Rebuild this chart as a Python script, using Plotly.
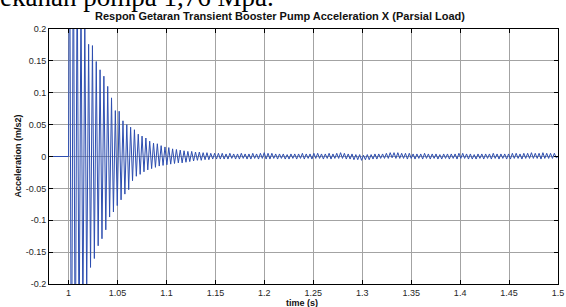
import plotly.graph_objects as go

# ---- data ----
start_time = 0.98          # trace starts (flat at zero)
onset_time = 1.0           # transient starts
period = 0.0039            # oscillation period (s)

# positive peak of each cycle
pos_peaks = [
    0.45, 0.38, 0.31, 0.26, 0.215,
    0.176, 0.174, 0.149, 0.136, 0.126,
    0.110, 0.092, 0.072, 0.071, 0.056,
    0.050, 0.046, 0.042, 0.035, 0.032,
    0.029, 0.024, 0.021, 0.020, 0.017,
    0.015, 0.014, 0.012, 0.011, 0.010,
    0.009, 0.008, 0.008, 0.007, 0.007,
    0.006, 0.006, 0.005, 0.005, 0.005,
    0.005, 0.004, 0.005, 0.004, 0.004, 0.005, 0.004, 0.004, 0.005, 0.004,
    0.005, 0.006, 0.005, 0.005, 0.004, 0.004, 0.004, 0.003, 0.004, 0.004,
    0.004, 0.005, 0.004, 0.004, 0.005, 0.005, 0.004, 0.004, 0.005, 0.004,
    0.005, 0.006, 0.005, 0.004, 0.004, 0.003, 0.003, 0.002, 0.003, 0.003,
    0.004, 0.004, 0.004, 0.005, 0.006, 0.006, 0.006, 0.005, 0.005, 0.005,
    0.004, 0.004, 0.004, 0.005, 0.004, 0.004, 0.004, 0.003, 0.004, 0.004,
    0.004, 0.004, 0.005, 0.005, 0.004, 0.004, 0.003, 0.004, 0.004, 0.004,
    0.004, 0.005, 0.004, 0.004, 0.004, 0.004, 0.005, 0.005, 0.004, 0.005,
    0.005, 0.006, 0.005, 0.005, 0.006, 0.005, 0.005, 0.005,
]

# negative trough of each cycle
neg_peaks = [
    -0.45, -0.38, -0.31, -0.26, -0.215,
    -0.174, -0.160, -0.140, -0.129, -0.115,
    -0.095, -0.087, -0.077, -0.068, -0.059,
    -0.052, -0.038, -0.031, -0.028, -0.024,
    -0.021, -0.019, -0.017, -0.015, -0.014,
    -0.013, -0.012, -0.011, -0.010, -0.010,
    -0.009, -0.008, -0.007, -0.006, -0.006,
    -0.005, -0.005, -0.004, -0.004, -0.004,
    -0.004, -0.004, -0.003, -0.004, -0.004, -0.003, -0.004, -0.004, -0.003, -0.004,
    -0.003, -0.004, -0.004, -0.003, -0.004, -0.003, -0.004, -0.004, -0.003, -0.004,
    -0.003, -0.004, -0.003, -0.004, -0.003, -0.003, -0.004, -0.003, -0.004, -0.003,
    -0.003, -0.003, -0.004, -0.004, -0.005, -0.005, -0.006, -0.005, -0.005, -0.004,
    -0.004, -0.003, -0.003, -0.003, -0.002, -0.003, -0.003, -0.003, -0.004, -0.003,
    -0.004, -0.003, -0.004, -0.003, -0.004, -0.003, -0.004, -0.004, -0.003, -0.004,
    -0.003, -0.004, -0.003, -0.003, -0.004, -0.004, -0.004, -0.003, -0.004, -0.003,
    -0.004, -0.003, -0.004, -0.003, -0.004, -0.004, -0.003, -0.003, -0.004, -0.003,
    -0.003, -0.003, -0.003, -0.004, -0.003, -0.003, -0.003, -0.002,
]

x_ticks = [1, 1.05, 1.1, 1.15, 1.2, 1.25, 1.3, 1.35, 1.4, 1.45, 1.5]
x_tick_labels = ["1", "1.05", "1.1", "1.15", "1.2", "1.25", "1.3", "1.35", "1.4", "1.45", "1.5"]
y_ticks = [-0.2, -0.15, -0.1, -0.05, 0, 0.05, 0.1, 0.15, 0.2]
y_tick_labels = ["-0.2", "-0.15", "-0.1", "-0.05", "0", "0.05", "0.1", "0.15", "0.2"]

title_text = "Respon Getaran Transient Booster Pump Acceleration X (Parsial Load)"
x_label = "time (s)"
y_label = "Acceleration (m/s2)"
header_text = "ekanan pompa 1,76 Mpa."

# ---- build the trace ----
t = [start_time, onset_time]
y = [0.0, 0.0]
for k, (p, n) in enumerate(zip(pos_peaks, neg_peaks)):
    t.append(onset_time + k * period + period * 0.25)
    y.append(p)
    t.append(onset_time + k * period + period * 0.75)
    y.append(n)
t.append(1.5)
y.append(0.0)

font_family = "Liberation Sans, Arial, sans-serif"

fig = go.Figure()
fig.add_trace(go.Scatter(x=t, y=y, mode="lines",
                         line=dict(color="#2d4eb0", width=1),
                         showlegend=False, hoverinfo="skip"))

axis_common = dict(
    showline=True, linecolor="#000000", linewidth=1, mirror="ticks",
    ticks="inside", ticklen=4, tickcolor="#000000",
    showgrid=True, gridcolor="#a3a3a3", gridwidth=1,
    zeroline=False, automargin=False,
    tickfont=dict(family=font_family, size=9, color="#262626"),
)

fig.update_xaxes(range=[start_time, 1.5], tickvals=x_ticks, ticktext=x_tick_labels, **axis_common)
fig.update_yaxes(range=[-0.2, 0.2], tickvals=y_ticks, ticktext=y_tick_labels, **axis_common)

fig.update_layout(
    width=566, height=307, autosize=False,
    margin=dict(l=49, r=8, t=29, b=23, pad=0),
    paper_bgcolor="white", plot_bgcolor="white",
    font=dict(family=font_family, color="#000000"),
    title=dict(text="<b>" + title_text + "</b>", x=280 / 566, xanchor="center",
               y=1 - 16 / 307, yanchor="middle", automargin=False,
               font=dict(family=font_family, size=11, color="#111111")),
    annotations=[
        dict(text="<b>" + x_label + "</b>", xref="paper", yref="paper",
             x=(302 - 49) / 509, y=-18.5 / 255, xanchor="center", yanchor="middle",
             showarrow=False, font=dict(family=font_family, size=9, color="#111111")),
        dict(text="<b>" + y_label + "</b>", xref="paper", yref="paper",
             x=(17 - 49) / 509, y=0.5, xanchor="center", yanchor="middle",
             textangle=-90, showarrow=False,
             font=dict(family=font_family, size=9, color="#111111")),
        dict(text=header_text, xref="paper", yref="paper",
             x=(-2 - 49) / 509, y=1 + (29 - 14) / 255, xanchor="left", yanchor="bottom",
             showarrow=False,
             font=dict(family="Liberation Serif, Times New Roman, serif", size=27, color="#000000")),
    ],
)

fig.write_html("out.html", config={"displayModeBar": False, "responsive": False},
               post_script="document.body.style.margin='0';document.body.style.overflow='hidden';")
